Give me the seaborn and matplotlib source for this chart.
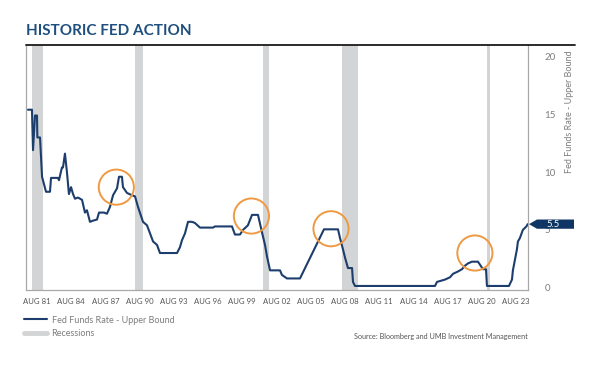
import numpy as np
import pandas as pd
import matplotlib
matplotlib.use("Agg")
import matplotlib.pyplot as plt
import seaborn as sns
from matplotlib.lines import Line2D
from matplotlib.patches import Polygon
import matplotlib.transforms as mtransforms

# ---- data (decimal years, percent) ----
years = [1981.0, 1981.34, 1981.43, 1981.6, 1981.77, 1981.8, 1982.03, 1982.2, 1982.28, 1982.54,
         1982.88, 1982.97, 1983.56, 1983.65, 1983.9, 1983.99, 1984.16, 1984.33, 1984.5, 1984.68,
         1984.85, 1985.02, 1985.27, 1985.62, 1985.87, 1986.04, 1986.3, 1986.56, 1986.9, 1987.07,
         1987.5, 1987.75, 1988.01, 1988.27, 1988.61, 1988.78, 1989.03, 1989.12, 1989.46, 1989.89,
         1990.15, 1990.4, 1990.83, 1991.17, 1991.43, 1991.69, 1992.03, 1992.28, 1993.74, 1993.99,
         1994.16, 1994.42, 1994.68, 1995.02, 1995.27, 1995.7, 1996.81, 1996.98, 1998.44, 1998.69,
         1999.12, 1999.38, 1999.8, 2000.15, 2000.66, 2001.0, 2001.26, 2001.43, 2001.69, 2002.54,
         2002.71, 2003.14, 2004.25, 2006.3, 2007.5, 2007.67, 2007.93, 2008.1, 2008.35, 2008.7,
         2008.78, 2008.95, 2015.79, 2015.96, 2016.64, 2017.07, 2017.33, 2017.75, 2018.1, 2018.35,
         2018.61, 2018.95, 2019.46, 2019.63, 2019.89, 2020.15, 2020.23, 2022.11, 2022.37, 2022.45,
         2022.62, 2022.79, 2022.88, 2023.05, 2023.3, 2023.6, 2023.72]
rate = [15.4, 15.4, 11.9, 14.9, 14.9, 13.0, 13.0, 9.6, 9.3, 8.3,
        8.3, 9.5, 9.5, 9.3, 10.4, 10.4, 11.6, 10.0, 8.1, 8.7,
        8.1, 7.7, 7.8, 7.6, 6.5, 6.7, 5.7, 5.8, 5.9, 6.5,
        6.5, 6.4, 7.0, 8.0, 8.6, 9.6, 9.6, 8.7, 8.2, 8.0,
        7.9, 7.0, 5.7, 5.4, 4.7, 4.0, 3.7, 3.0, 3.0, 3.5,
        4.1, 4.7, 5.7, 5.7, 5.6, 5.2, 5.2, 5.3, 5.3, 4.6,
        4.6, 5.0, 5.4, 6.3, 6.3, 4.8, 3.7, 2.7, 1.5, 1.5,
        1.1, 0.8, 0.8, 5.05, 5.05, 4.3, 3.3, 2.6, 1.7, 1.7,
        0.5, 0.15, 0.15, 0.5, 0.7, 0.9, 1.2, 1.4, 1.6, 1.9,
        2.1, 2.25, 2.25, 2.0, 1.6, 1.6, 0.15, 0.15, 0.7, 1.5,
        2.4, 3.3, 4.0, 4.3, 5.0, 5.3, 5.5]

recession_start = [1981.34, 1990.15, 2001.09, 2007.84, 2020.23]
recession_end = [1982.28, 1990.83, 2001.60, 2009.20, 2020.49]

highlight_years = [1988.55, 2000.1, 2006.9, 2019.2]
highlight_rates = [8.7, 6.2, 5.1, 3.0]

tick_labels = ["AUG 81", "AUG 84", "AUG 87", "AUG 90", "AUG 93", "AUG 96", "AUG 99",
               "AUG 02", "AUG 05", "AUG 08", "AUG 11", "AUG 14", "AUG 17", "AUG 20", "AUG 23"]
y_ticks = [0, 5, 10, 15, 20]
last_value = 5.5

# ---- styling ----
sns.set_theme(style="white")
plt.rcParams["font.family"] = ["Lato", "DejaVu Sans"]

NAVY = "#1d3e6d"
TITLE = "#1f4f7f"
GRAY_BAND = "#d2d4d5"
ORANGE = "#ef9a43"
TXT = "#7d7d7d"

fig = plt.figure(figsize=(6, 3.67), dpi=100)
ax = fig.add_axes([26 / 600, 1 - 290 / 367, (528 - 26) / 600, (290 - 45) / 367])

for s, e in zip(recession_start, recession_end):
    ax.axvspan(s, e, color=GRAY_BAND, lw=0, zorder=0)

df = pd.DataFrame({"year": years, "rate": rate})
sns.lineplot(data=df, x="year", y="rate", ax=ax, color=NAVY, lw=1.5, zorder=3)

sns.scatterplot(x=highlight_years, y=highlight_rates, ax=ax, s=640, marker="o",
                facecolors="none", edgecolor=ORANGE, linewidth=1.4, zorder=4)

ax.set_xlim(1980.83, 2023.74)
ax.set_ylim(-0.2, 21.0)
ax.set_xlabel("")
ax.set_ylabel("")

ax.set_xticks(np.linspace(1981.77, 2022.71, len(tick_labels)))
ax.set_xticklabels(tick_labels, fontsize=5.6, color="#555555")
ax.tick_params(axis="x", length=0, pad=6)

ax.yaxis.tick_right()
ax.set_yticks(y_ticks)
ax.set_yticklabels([str(v) for v in y_ticks], fontsize=7, color=TXT)
ax.tick_params(axis="y", length=0, pad=12)

for sp in ["left", "right", "bottom"]:
    ax.spines[sp].set_color("#a8a8a8")
    ax.spines[sp].set_linewidth(0.9)
ax.spines["top"].set_visible(False)

# top dark rule across the chart
fig.add_artist(Line2D([26 / 600, 575 / 600], [1 - 45 / 367, 1 - 45 / 367],
                      transform=fig.transFigure, color="#1a1a1a", lw=1.3))

# end value label: arrow-shaped tag pointing at the last value
trans = mtransforms.blended_transform_factory(fig.transFigure, ax.transData)
h = 0.40
tag = Polygon([[529 / 600, last_value], [537 / 600, last_value + h], [574 / 600, last_value + h],
               [574 / 600, last_value - h], [537 / 600, last_value - h]],
              closed=True, transform=trans, fc="#0e3563", ec="none", clip_on=False, zorder=6)
ax.add_patch(tag)
ax.text(553 / 600, last_value, f"{last_value}", transform=trans, ha="center", va="center",
        fontsize=6.8, color="white", clip_on=False, zorder=7)

fig.text(26 / 600, 1 - 31 / 367, "HISTORIC FED ACTION", fontsize=11, fontweight="bold",
         color=TITLE, ha="left", va="center")

fig.text(570 / 600, 1 - 112 / 367, "Fed Funds Rate - Upper Bound", rotation=90,
         fontsize=6.5, color=TXT, ha="center", va="center")

handles = [Line2D([], [], color=NAVY, lw=1.5), Line2D([], [], color=GRAY_BAND, lw=3.5)]
fig.legend(handles, ["Fed Funds Rate - Upper Bound", "Recessions"], loc="upper left",
           bbox_to_anchor=(20 / 600, 1 - 312 / 367), frameon=False, fontsize=6.5,
           labelcolor=TXT, handlelength=2.6, handletextpad=0.5, labelspacing=0.5,
           borderaxespad=0)

fig.text(528 / 600, 1 - 336 / 367, "Source: Bloomberg and UMB Investment Management",
         fontsize=5.2, color="#555555", ha="right", va="center")

fig.savefig("out.png", dpi=100)
